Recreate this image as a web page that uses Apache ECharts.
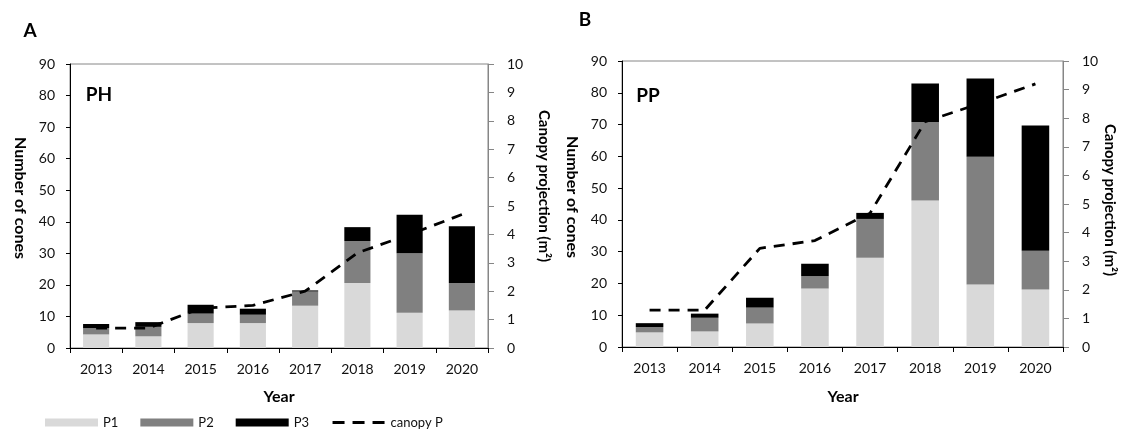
<!DOCTYPE html>
<html>
<head>
<meta charset="utf-8">
<script src="https://cdn.jsdelivr.net/npm/echarts@6/dist/echarts.min.js"></script>
<style>
html,body{margin:0;padding:0;background:#fff;}
#c{width:1122px;height:432px;}
</style>
</head>
<body>
<div id="c"></div>
<script>
const years = ['2013','2014','2015','2016','2017','2018','2019','2020'];
// Panel A (PH)
const PH_P1 = [4.3, 3.7, 7.9, 7.9, 13.4, 20.6, 11.2, 11.9];
const PH_P2 = [2.0, 3.0, 3.0, 2.65, 4.5, 13.3, 18.8, 8.7];
const PH_P3 = [1.3, 1.5, 2.8, 1.9, 0.35, 4.4, 12.2, 18.0];
const PH_canopy = [0.7, 0.7, 1.4, 1.5, 2.0, 3.35, 4.0, 4.7];
// Panel B (PP)
const PP_P1 = [4.6, 4.9, 7.4, 18.4, 28.1, 46.1, 19.7, 18.1];
const PP_P2 = [1.7, 4.3, 5.0, 3.9, 12.2, 24.7, 40.2, 12.2];
const PP_P3 = [1.2, 1.3, 3.1, 3.9, 1.9, 12.1, 24.6, 39.4];
const PP_canopy = [1.29, 1.29, 3.45, 3.72, 4.68, 7.88, 8.52, 9.2];

const FONT = 'Lato';
const TXT = '#111';
const colors = {P1:'#d9d9d9', P2:'#808080', P3:'#000000'};

const chart = echarts.init(document.getElementById('c'), null, {renderer:'canvas'});

function xAx(gi){
  return {
    type:'category', gridIndex:gi, data:years, boundaryGap:true,
    axisLine:{lineStyle:{color:'#000', width:1}},
    axisTick:{show:true, length:5, lineStyle:{color:'#000'}},
    axisLabel:{color:TXT, fontFamily:FONT, fontSize:14, margin:14}
  };
}
function yLeft(gi){
  return {
    type:'value', gridIndex:gi, position:'left', min:0, max:90, interval:10,
    splitLine:{show:false},
    axisLine:{show:true, lineStyle:{color:'#000', width:1}},
    axisTick:{show:true, length:4, lineStyle:{color:'#000'}},
    axisLabel:{color:TXT, fontFamily:FONT, fontSize:14, margin:15}
  };
}
function yRight(gi){
  return {
    type:'value', gridIndex:gi, position:'right', min:0, max:10, interval:1,
    splitLine:{show:false},
    axisLine:{show:true, lineStyle:{color:'#868686', width:1}},
    axisTick:{show:true, length:6, lineStyle:{color:'#868686'}},
    axisLabel:{color:TXT, fontFamily:FONT, fontSize:14, margin:19}
  };
}
function bar(name, data, xi, yi, stack){
  return {name, type:'bar', stack, xAxisIndex:xi, yAxisIndex:yi, data,
    barWidth:'50%', itemStyle:{color:colors[name]}, emphasis:{disabled:true}, z:2};
}
function line(data, xi, yi){
  return {name:'canopy P', type:'line', xAxisIndex:xi, yAxisIndex:yi, data,
    symbol:'none', showSymbol:false, z:5,
    lineStyle:{color:'#000', width:2.8, type:[11,8]},
    itemStyle:{color:'#000'}};
}

const titleStyle = {fontFamily:FONT, fontSize:16, fontWeight:'bold', fill:'#000'};
function vtext(x, y, text, size){
  return {type:'text', x, y, rotation:Math.PI/2,
    style:Object.assign({}, titleStyle, {text, align:'center', verticalAlign:'middle', fontSize:size||16})};
}
function htext(x, y, text, size){
  return {type:'text', x, y,
    style:Object.assign({}, titleStyle, {text, align:'center', verticalAlign:'middle', fontSize:size||16})};
}

const option = {
  animation:false,
  backgroundColor:'#fff',
  grid:[
    {left:70, top:64, width:418, height:284, show:true, borderColor:'#868686', borderWidth:1, containLabel:false},
    {left:622, top:61, width:441, height:286, show:true, borderColor:'#868686', borderWidth:1, containLabel:false}
  ],
  xAxis:[xAx(0), xAx(1)],
  yAxis:[yLeft(0), yRight(0), yLeft(1), yRight(1)],
  legend:{
    left:40, top:411, itemWidth:53, itemHeight:8, itemGap:22,
    textStyle:{fontFamily:FONT, fontSize:13, color:TXT},
    data:[
      {name:'P1', icon:'rect'},
      {name:'P2', icon:'rect'},
      {name:'P3', icon:'rect'},
      {name:'canopy P', itemStyle:{opacity:0}, lineStyle:{width:3, type:[12,8], color:'#000'}}
    ]
  },
  series:[
    bar('P1', PH_P1, 0, 0, 'A'),
    bar('P2', PH_P2, 0, 0, 'A'),
    bar('P3', PH_P3, 0, 0, 'A'),
    line(PH_canopy, 0, 1),
    bar('P1', PP_P1, 1, 2, 'B'),
    bar('P2', PP_P2, 1, 2, 'B'),
    bar('P3', PP_P3, 1, 2, 'B'),
    line(PP_canopy, 1, 3)
  ],
  graphic:[
    htext(30, 31, 'A', 19),
    htext(585, 20, 'B', 19),
    htext(99, 95, 'PH', 19),
    htext(648, 96, 'PP', 19),
    vtext(20, 198, 'Number of cones', 16),
    vtext(544, 186, 'Canopy projection (m²)', 15),
    vtext(572, 197, 'Number of cones', 16),
    vtext(1110, 200, 'Canopy projection (m²)', 15),
    htext(279, 397, 'Year', 16),
    htext(843, 397, 'Year', 16)
  ]
};
option.graphic.forEach(g => { if (g.rotation) g.rotation = -Math.PI/2; });
chart.setOption(option);
</script>
</body>
</html>
